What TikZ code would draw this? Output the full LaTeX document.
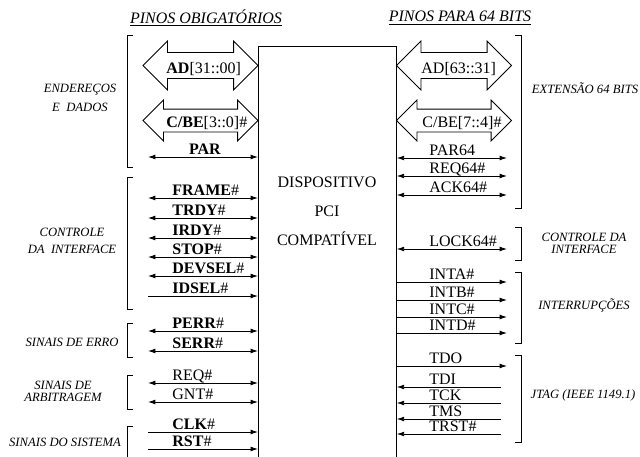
\documentclass[tikz,border=0pt]{standalone}
\usepackage{fontspec}
\setmainfont{Liberation Serif}
\usetikzlibrary{arrows.meta,shapes.arrows}

\begin{document}
\begin{tikzpicture}[x=0.75pt,y=-0.75pt,font=\fontsize{12}{14}\selectfont,
  >={Latex[length=5.5pt,width=3.6pt]},line width=0.6pt,
  bus/.style={draw,double arrow,double arrow head extend=8.6pt,inner xsep=0pt,
    inner ysep=9.4pt,minimum height=86.25pt},
  cbus/.style={bus,double arrow head extend=6.75pt,inner ysep=8.25pt},
  pin/.style={anchor=base west,inner sep=0pt},
  grp/.style={font=\fontsize{9.5}{9}\selectfont\itshape,align=center},
  head/.style={font=\fontsize{12}{14}\selectfont\itshape}]
\useasboundingbox (0,0) rectangle (640,457);

% device body, open at the bottom
\node[minimum width=103.5pt,minimum height=308.25pt,inner sep=0pt,anchor=north west] (dev) at (258,46) {};
\draw (dev.south west) |- (dev.north east) -- (dev.south east);
\node[align=center,font=\fontsize{12}{21.75}\selectfont] (devtxt) at (327,211) {DISPOSITIVO\\PCI\\COMPATÍVEL};

% headers
\node[head] (hleft) at (206,18) {\underline{PINOS OBIGATÓRIOS}};
\node[head] (hright) at (460,18) {\underline{PINOS PARA 64 BITS}};

% buses
\node[bus] (ad) at (200.5,65.5) {};
\node[pin] (adL) at (166,73) {\textbf{AD}[31::00]};
\node[cbus] (cbe) at (200.5,120.5) {};
\node[pin] (cbeL) at (166,127) {\textbf{C/BE}[3::0]\#};
\node[bus] (ad64) at (454,65.5) {};
\node[pin] (ad64L) at (421,73) {AD[63::31]};
\node[cbus] (cbe64) at (454,120.5) {};
\node[pin] (cbe64L) at (422,127) {C/BE[7::4]\#};

% left pins
\coordinate (par) at (148,157); \draw[<->] (par) -- (par-|dev.west);
\node[pin,anchor=base] (parL) at (205,154.5) {\textbf{PAR}};
\coordinate (frame) at (148,198); \draw[<->] (frame) -- (frame-|dev.west);
\node[pin] (frameL) at (172,195.5) {\textbf{FRAME}\#};
\coordinate (trdy) at (148,218); \draw[<->] (trdy) -- (trdy-|dev.west);
\node[pin] (trdyL) at (172,215.5) {\textbf{TRDY}\#};
\coordinate (irdy) at (148,238); \draw[<->] (irdy) -- (irdy-|dev.west);
\node[pin] (irdyL) at (172,235.5) {\textbf{IRDY}\#};
\coordinate (stop) at (148,257); \draw[<->] (stop) -- (stop-|dev.west);
\node[pin] (stopL) at (172,254.5) {\textbf{STOP}\#};
\coordinate (devsel) at (148,276); \draw[<->] (devsel) -- (devsel-|dev.west);
\node[pin] (devselL) at (172,273.5) {\textbf{DEVSEL}\#};
\coordinate (idsel) at (148,296); \draw[->] (idsel) -- (idsel-|dev.west);
\node[pin] (idselL) at (172,293.5) {\textbf{IDSEL}\#};
\coordinate (perr) at (148,331); \draw[<->] (perr) -- (perr-|dev.west);
\node[pin] (perrL) at (172,328.5) {\textbf{PERR}\#};
\coordinate (serr) at (148,351); \draw[<->] (serr) -- (serr-|dev.west);
\node[pin] (serrL) at (172,348.5) {\textbf{SERR}\#};
\coordinate (req) at (148,383); \draw[<->] (req) -- (req-|dev.west);
\node[pin] (reqL) at (172,380.5) {REQ\#};
\coordinate (gnt) at (148,402); \draw[<->] (gnt) -- (gnt-|dev.west);
\node[pin] (gntL) at (172,399.5) {GNT\#};
\coordinate (clk) at (148,432); \draw[->] (clk) -- (clk-|dev.west);
\node[pin] (clkL) at (172,429.5) {\textbf{CLK}\#};
\coordinate (rst) at (148,449); \draw[->] (rst) -- (rst-|dev.west);
\node[pin] (rstL) at (172,446.5) {\textbf{RST}\#};

% right pins
\coordinate (par64) at (507,158); \draw[<->] (par64-|dev.east) -- (par64);
\node[pin] (par64L) at (429,155.5) {PAR64};
\coordinate (req64) at (507,176); \draw[<->] (req64-|dev.east) -- (req64);
\node[pin] (req64L) at (429,173.5) {REQ64\#};
\coordinate (ack64) at (507,195); \draw[<->] (ack64-|dev.east) -- (ack64);
\node[pin] (ack64L) at (429,192.5) {ACK64\#};
\coordinate (lock) at (507,249); \draw[<->] (lock-|dev.east) -- (lock);
\node[pin] (lockL) at (429,246.5) {LOCK64\#};
\coordinate (inta) at (507,282); \draw[->] (inta-|dev.east) -- (inta);
\node[pin] (intaL) at (429,279.5) {INTA\#};
\coordinate (intb) at (507,300); \draw[->] (intb-|dev.east) -- (intb);
\node[pin] (intbL) at (429,297.5) {INTB\#};
\coordinate (intc) at (507,317); \draw[->] (intc-|dev.east) -- (intc);
\node[pin] (intcL) at (429,314.5) {INTC\#};
\coordinate (intd) at (507,333); \draw[->] (intd-|dev.east) -- (intd);
\node[pin] (intdL) at (429,330.5) {INTD\#};
\coordinate (tdo) at (507,366); \draw[->] (tdo-|dev.east) -- (tdo);
\node[pin] (tdoL) at (429,363.5) {TDO};
\coordinate (tdi) at (501,387); \draw[->] (tdi) -- (tdi-|dev.east);
\node[pin] (tdiL) at (429,384.5) {TDI};
\coordinate (tck) at (501,403); \draw[->] (tck) -- (tck-|dev.east);
\node[pin] (tckL) at (429,400.5) {TCK};
\coordinate (tms) at (501,419); \draw[->] (tms) -- (tms-|dev.east);
\node[pin] (tmsL) at (429,416.5) {TMS};
\coordinate (trst) at (501,434); \draw[->] (trst) -- (trst-|dev.east);
\node[pin] (trstL) at (429,431.5) {TRST\#};

% brackets
\draw (133,35) -| (127,167) -- (133,167);
\draw (133,177) -| (127,309) -- (133,309);
\draw (133,323) -| (127,357) -- (133,357);
\draw (133,375) -| (127,409) -- (133,409);
\draw (133,426) -| (127,457);
\draw (515,35) -| (521,208) -- (515,208);
\draw (515,227) -| (521,260) -- (515,260);
\draw (515,272) -| (521,343) -- (515,343);
\draw (515,355) -| (521,442) -- (515,442);

% group names
\node[grp] (gaddr) at (80,97.5) {ENDEREÇOS\\[5.25pt]E\ \ DADOS};
\node[grp] (gctl) at (72,240.5) {CONTROLE\\[3.75pt]DA\ \ INTERFACE};
\node[grp] (gerr) at (72,342) {SINAIS DE ERRO};
\node[grp] (garb) at (63,391) {SINAIS DE\\ARBITRAGEM};
\node[grp] (gsys) at (65,442) {SINAIS DO SISTEMA};
\node[grp] (gext) at (585,88) {EXTENSÃO 64 BITS};
\node[grp] (gctl64) at (584,243) {CONTROLE DA\\INTERFACE};
\node[grp] (gint) at (584,305) {INTERRUPÇÕES};
\node[grp] (gjtag) at (583,395) {JTAG (IEEE 1149.1)};
\end{tikzpicture}
\end{document}
